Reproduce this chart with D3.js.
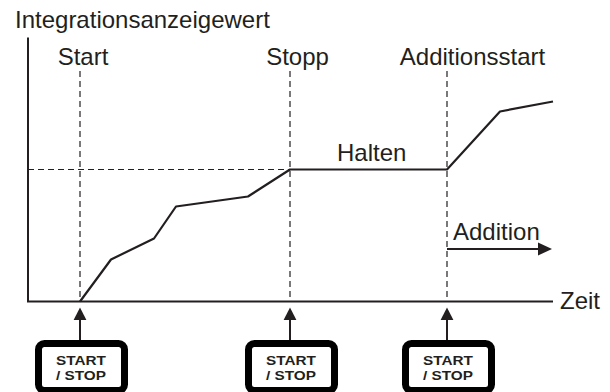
<!DOCTYPE html>
<html>
<head>
<meta charset="utf-8">
<script src="https://cdn.jsdelivr.net/npm/d3@7"></script>
<style>
  html, body { margin: 0; padding: 0; background: #fff; }
  svg { display: block; }
  text { font-family: "Liberation Sans", Arial, sans-serif; fill: #231f20; }
</style>
</head>
<body>
<svg id="chart"></svg>
<script>
const width = 610, height = 392;
const ink = "#231f20";

// time / reading
const curveTime = [52, 83, 126, 148, 220, 262, 419, 472, 525];
const curveValue = [0, 42, 63, 95, 105, 132, 132, 190, 200];

const eventTimes = [52, 262, 419];
const eventLabels = ["Start", "Stopp", "Additionsstart"];
const eventLabelX = [83, 297.5, 472.5];
const buttonLines = ["START", "/ STOP"];
const holdValue = 132;

const xScale = d3.scaleLinear().domain([0, 525]).range([28, 553]);
const yScale = d3.scaleLinear().domain([0, 264]).range([301.5, 37.5]);

const svg = d3.select("#chart").attr("width", width).attr("height", height);

// dashed guides
svg.selectAll(".guide")
  .data(eventTimes)
  .enter().append("line")
  .attr("class", "guide")
  .attr("x1", d => xScale(d))
  .attr("x2", d => xScale(d))
  .attr("y1", 71)
  .attr("y2", yScale(0))
  .attr("stroke", ink)
  .attr("stroke-width", 1.2)
  .attr("stroke-dasharray", "6 4");

svg.append("line")
  .attr("x1", xScale(0))
  .attr("x2", xScale(262))
  .attr("y1", yScale(holdValue))
  .attr("y2", yScale(holdValue))
  .attr("stroke", ink)
  .attr("stroke-width", 1.2)
  .attr("stroke-dasharray", "6 4");

// axes
const axisPath = d3.line()([[xScale(0), yScale(264)], [xScale(0), yScale(0)], [xScale(525), yScale(0)]]);
svg.append("path")
  .attr("d", axisPath)
  .attr("fill", "none")
  .attr("stroke", ink)
  .attr("stroke-width", 2);

// integration curve
const line = d3.line().x(d => xScale(d[0])).y(d => yScale(d[1]));
svg.append("path")
  .attr("d", line(d3.zip(curveTime, curveValue)))
  .attr("fill", "none")
  .attr("stroke", ink)
  .attr("stroke-width", 2.2)
  .attr("stroke-linejoin", "round");

// labels
const fontSize = 24;
function label(txt, x, y, anchor) {
  svg.append("text")
    .text(txt)
    .attr("x", x)
    .attr("y", y)
    .attr("text-anchor", anchor || "start")
    .style("font-size", fontSize + "px");
}
label("Integrationsanzeigewert", 15, 28);
eventLabels.forEach((d, i) => label(d, eventLabelX[i], 65, "middle"));
label("Halten", 337, 161);
label("Addition", 453, 240);
label("Zeit", 560, 309);

// addition arrow
svg.append("line")
  .attr("x1", xScale(419))
  .attr("x2", 542)
  .attr("y1", 249)
  .attr("y2", 249)
  .attr("stroke", ink)
  .attr("stroke-width", 2);
svg.append("path")
  .attr("d", "M538,242.5L552,249L538,255.5Z")
  .attr("fill", ink);

// buttons under each event
const button = svg.selectAll(".button")
  .data(eventTimes)
  .enter().append("g")
  .attr("class", "button")
  .attr("transform", d => `translate(${xScale(d)},0)`);

button.append("line")
  .attr("y1", 319)
  .attr("y2", 340)
  .attr("stroke", ink)
  .attr("stroke-width", 2);
button.append("path")
  .attr("d", "M0,307.5L6.4,320L-6.4,320Z")
  .attr("fill", ink);
button.append("rect")
  .attr("x", -41.5)
  .attr("y", 343.5)
  .attr("width", 86)
  .attr("height", 47)
  .attr("rx", 6)
  .attr("fill", "#fff")
  .attr("stroke", "#000")
  .attr("stroke-width", 7);

// stretched a little so the two lines keep their width without touching
buttonLines.forEach((d, i) => {
  button.append("text")
    .text(d)
    .attr("x", -24)
    .attr("y", 364.5 + i * 15)
    .attr("textLength", 50)
    .attr("lengthAdjust", "spacingAndGlyphs")
    .style("font-size", "13px")
    .style("font-weight", "bold");
});
</script>
</body>
</html>
